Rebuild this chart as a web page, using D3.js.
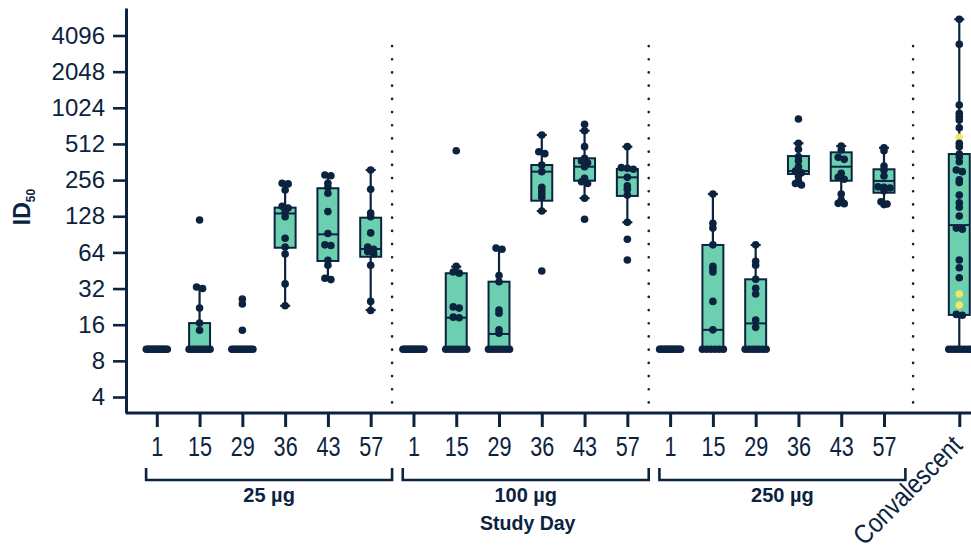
<!DOCTYPE html>
<html><head><meta charset="utf-8">
<script src="https://cdn.jsdelivr.net/npm/d3@7/dist/d3.min.js"></script>
<style>body{margin:0;background:#fff}svg{display:block}</style>
</head><body>
<svg id="chart" width="971" height="550"></svg>
<script>
// ---------- data ----------
const yTickValues = [4, 8, 16, 32, 64, 128, 256, 512, 1024, 2048, 4096];
const dayLabels = ["1", "15", "29", "36", "43", "57"];
const doseGroups = ["25 µg", "100 µg", "250 µg"];
const convLabel = "Convalescent";
const xTitle = "Study Day";

const dose25 = [
  [10,10,10,10,10,10,10,10,10,10,10,10,10,10,10],
  [119,33,32,22,16.5,14.4,10,10,10,10,10,10,10,10,10],
  [26.2,23.8,14.4,10,10,10,10,10,10,10,10,10,10,10,10],
  [241,238,212,155,150,140,127,84,71,62,35,23],
  [282,278,241,223,199,140,92,74,73,55,50,39,38],
  [311,215,136,127,93,71,68,65,62,50,25,21]
];
const dose100 = [
  [10,10,10,10,10,10,10,10,10,10,10,10,10,10,10],
  [450,49,44,43,22.5,22,18.5,18.3,10,10,10,10,10,10,10],
  [69.5,68,41,36.5,21.2,19.9,14.5,13.6,10,10,10,10,10,10,10],
  [608,441,425,342,301,223,209,196,184,141.5,44.8],
  [746,660,486,389,370,357,331,265,248,240,181,121],
  [486,325,321,315,270,229,215,192,114,82.3,55.3]
];
const dose250 = [
  [10,10,10,10,10,10,10,10,10,10,10,10,10,10,10],
  [196,112,102,74,49,46.5,44,25,14.5,10,10,10,10,10,10],
  [74,54,50,38.2,32.2,28.8,17.5,15.2,10,10,10,10,10,10,10],
  [826,519,462,401,371,331,305,295,277,253,240,233],
  [492,456,396,381,292,270,260,196,175,164,163],
  [476,450,335,311,277,225,223,220,209,169,162,160]
];
const convalescent = [5588,3461,1080,922,864,811,699,582,519,486,422,401,364,311,301,257,244,192,166,152,128.6,102,100,55.3,47.7,39.4,28.8,23.3,19.5,19.2,10,10,10,10,10,10,10,10];
const convHighlighted = [582, 28.8, 23.3];

// box statistics (19 categories in order)
const boxQ1   = [10,10,10, 70, 54.3,58.9, 10,10,10, 172.5,253,189, 10,10,10, 288,253,201, 19.3];
const boxMed  = [10,10,10, 135,90.5,68.3, 10,18.3,13.4, 301,331,270, 10,14.5,16.4, 305,331,252, 108];
const boxQ3   = [10,16.5,10, 151,219,124.5, 10,42.9,36.5, 342,389,317, 10,73.8,38.2, 406,436,315, 422];
const whiskLo = [10,10,10, 23,38.2,21.2, 10,10,10, 141.5,181,114, 10,10,10, 233,164,162, 10];
const whiskHi = [10,33,10, 240,282,310.7, 10,48.7,69.2, 608,660,486, 10,196,73.8, 519,492,476, 5588];

// category positions in category-index units
const convIndex = 18.76;
const separatorsAt = [5.5, 11.5, 17.68];

// ---------- setup ----------
const navy = "#0c2340";
const boxFill = "#6ccfb0";
const yellow = "#f5e663";
const sans = "'Liberation Sans', Arial, sans-serif";

const svg = d3.select("#chart");
const x = d3.scaleLinear().domain([0, 17]).range([156.8, 884]);
const y = d3.scaleLog().base(2).domain([2.943, 6941]).range([413, 8]);
const step = x(1) - x(0);
const boxHalf = step * 0.245;

const allGroups = [...dose25, ...dose100, ...dose250, convalescent];
const catIndex = d3.range(18).concat([convIndex]);
const catLabels = [...dayLabels, ...dayLabels, ...dayLabels, convLabel];

// separators
svg.append("g").selectAll("line").data(separatorsAt).join("line")
  .attr("x1", d => x(d)).attr("x2", d => x(d))
  .attr("y1", 46).attr("y2", 413)
  .attr("stroke", navy).attr("stroke-width", 2.6)
  .attr("stroke-linecap", "round")
  .attr("stroke-dasharray", "0.1 13.1");

// y axis
const yAxis = svg.append("g").attr("transform", "translate(126,0)")
  .call(d3.axisLeft(y).tickValues(yTickValues).tickFormat(d3.format("d"))
    .tickSize(13).tickSizeOuter(0).tickPadding(8));
yAxis.select(".domain").attr("stroke", navy).attr("stroke-width", 3);
yAxis.selectAll(".tick line").attr("stroke", navy).attr("stroke-width", 2.6);
yAxis.selectAll(".tick text").attr("fill", navy).style("font-family", sans).style("font-size", "24px");

// x axis
const xAxis = svg.append("g").attr("transform", "translate(0,413)")
  .call(d3.axisBottom(x).tickValues(catIndex).tickFormat((d, i) => catLabels[i])
    .tickSize(14).tickSizeOuter(0).tickPadding(10));
xAxis.select(".domain").remove();
xAxis.selectAll(".tick line").attr("stroke", navy).attr("stroke-width", 3);
xAxis.selectAll(".tick text").attr("fill", navy).style("font-family", sans).style("font-size", "27px")
  .attr("transform", "scale(0.8,1)");
xAxis.selectAll(".tick text").filter(d => d === convIndex)
  .attr("x", 0).attr("y", 0).attr("dy", 0)
  .attr("text-anchor", "end")
  .attr("transform", "translate(4,34) rotate(-45) scale(0.86,1)");
svg.append("line").attr("x1", 126).attr("x2", 971).attr("y1", 413).attr("y2", 413)
  .attr("stroke", navy).attr("stroke-width", 3);

// brackets + group labels
const bracketG = svg.append("g");
doseGroups.forEach((g, gi) => {
  const a = x(gi * 6 - 0.25), b = x(gi * 6 + 5 + 0.5);
  bracketG.append("path")
    .attr("d", `M${a},468V480H${b}V468`)
    .attr("fill", "none").attr("stroke", navy).attr("stroke-width", 2.6);
  bracketG.append("text").attr("x", (a + b) / 2).attr("y", 502)
    .attr("text-anchor", "middle").attr("fill", navy)
    .style("font-family", sans).style("font-weight", "bold").style("font-size", "20px")
    .text(g);
});
svg.append("text").attr("x", (x(5.75) + x(11.5)) / 2 + 2).attr("y", 530)
  .attr("text-anchor", "middle").attr("fill", navy)
  .style("font-family", sans).style("font-weight", "bold").style("font-size", "19.5px")
  .text(xTitle);

// y title
const yt = svg.append("text").attr("transform", "translate(30,207) rotate(-90)")
  .attr("text-anchor", "middle").attr("fill", navy)
  .style("font-family", sans).style("font-weight", "bold");
yt.append("tspan").style("font-size", "23px").text("ID");
yt.append("tspan").attr("dy", 5).style("font-size", "12px").text("50");

// boxes
const boxes = svg.append("g");
allGroups.forEach((vals, i) => {
  const cx = x(catIndex[i]);
  const g = boxes.append("g");
  g.append("line").attr("x1", cx).attr("x2", cx)
    .attr("y1", y(whiskLo[i])).attr("y2", y(whiskHi[i]))
    .attr("stroke", navy).attr("stroke-width", 2.2);
  [whiskLo[i], whiskHi[i]].forEach(v => {
    g.append("line").attr("x1", cx - 5).attr("x2", cx + 5)
      .attr("y1", y(v)).attr("y2", y(v))
      .attr("stroke", navy).attr("stroke-width", 2.2);
  });
  g.append("rect").attr("x", cx - boxHalf).attr("width", boxHalf * 2)
    .attr("y", y(boxQ3[i])).attr("height", y(boxQ1[i]) - y(boxQ3[i]))
    .attr("fill", boxFill).attr("stroke", navy).attr("stroke-width", 2);
  g.append("line").attr("x1", cx - boxHalf).attr("x2", cx + boxHalf)
    .attr("y1", y(boxMed[i])).attr("y2", y(boxMed[i]))
    .attr("stroke", navy).attr("stroke-width", 2);
});

// swarm points
function swarm(vals) {
  const pts = vals.map(v => ({ v, py: y(v) })).sort((a, b) => a.py - b.py);
  const clusters = []; let cur = null;
  pts.forEach(p => {
    if (cur && p.py - cur[0].py < 2.5) cur.push(p);
    else { cur = [p]; clusters.push(cur); }
  });
  clusters.forEach(c => {
    const n = c.length;
    const s = n > 1 ? Math.min(6, 21 / (n - 1)) : 0;
    c.forEach((p, k) => p.dx = (k - (n - 1) / 2) * s);
  });
  return pts;
}
const dots = svg.append("g");
allGroups.forEach((vals, i) => {
  const cx = x(catIndex[i]);
  const isConv = i === allGroups.length - 1;
  dots.selectAll(null).data(swarm(vals)).join("circle")
    .attr("cx", d => cx + d.dx).attr("cy", d => d.py).attr("r", 3.8)
    .attr("fill", d => isConv && convHighlighted.includes(d.v) ? yellow : navy);
});
</script>
</body></html>
